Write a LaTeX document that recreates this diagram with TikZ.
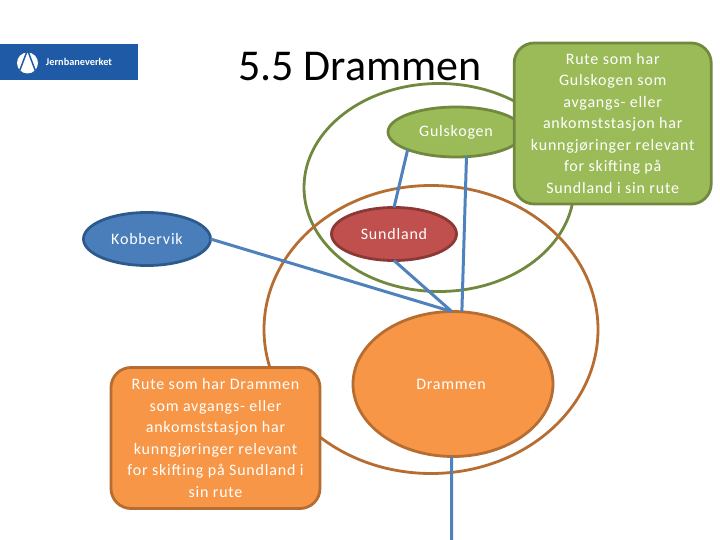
\documentclass[tikz,border=0pt]{standalone}
\usepackage{fontspec}
\setmainfont{Carlito}
\usetikzlibrary{shapes.geometric}
\definecolor{bluefill}{HTML}{4A7EBB}
\definecolor{blueline}{HTML}{2C5A8C}
\definecolor{conn}{HTML}{4F81BD}
\definecolor{greenfill}{HTML}{9BBB59}
\definecolor{greenline}{HTML}{71893F}
\definecolor{redfill}{HTML}{C0504D}
\definecolor{redline}{HTML}{8C3836}
\definecolor{orangefill}{HTML}{F79646}
\definecolor{orangeline}{HTML}{B66D31}
\definecolor{logoblue}{HTML}{1F5AA6}
\tikzset{
  x=1pt,y=-1pt,
  every node/.style={font=\fontsize{16}{21.5}\selectfont\addfontfeature{LetterSpace=5},text=white,align=center,inner sep=0pt,outer sep=0pt},
  station/.style={ellipse,line width=2.8pt},
  ring/.style={ellipse,line width=2.8pt,fill=none},
  note/.style={rounded corners=20pt,line width=2.8pt},
  link/.style={conn,line width=3pt},
}
\begin{document}
\begin{tikzpicture}
\useasboundingbox (0,0) rectangle (720,540);
% logo
\fill[logoblue] (0,44) rectangle (138,80);
\fill[white] (27.5,63) circle (10.5);
\draw[logoblue,line width=1.5pt] (18,75) -- (27.5,50) -- (37,75);
\node[font=\fontsize{10.3}{11}\selectfont\bfseries] (logotext) at (79,62) {Jernbaneverket};
% title
\node[text=black,font=\fontsize{44}{46}\selectfont] (title) at (360,67) {5.5 Drammen};
% rings
\node[ring,draw=greenline,minimum width=270,minimum height=208] (greenring) at (439,187.5) {};
\node[ring,draw=orangeline,minimum width=334,minimum height=288] (brownring) at (431,329.5) {};
% stations
\node[station,minimum width=136,minimum height=50,fill=greenfill,draw=greenline] (gulskogen) at (456,132) {Gulskogen};
\node[station,minimum width=127,minimum height=53,fill=bluefill,draw=blueline] (kobbervik) at (147,239) {Kobbervik};
\node[station,minimum width=125,minimum height=53,fill=redfill,draw=redline] (sundland) at (394,234) {Sundland};
\node[ellipse,line width=2.8pt,minimum width=200,minimum height=145,fill=orangefill,draw=orangeline] (drammen) at (453,384) {};
\node (drammenlabel) at (451,384) {Drammen};
\coordinate (bottom) at (451.7,540);
% connectors
\draw[link] (gulskogen.200) -- (sundland.north);
\draw[link] (gulskogen.293) -- (drammen.83);
\draw[link] (sundland.south) -- (drammen.91);
\draw[link] (kobbervik.east) -- (drammen.91);
\draw[link] (drammen.269) -- (bottom);
% notes
\node[note,fill=greenfill,draw=greenline,minimum width=197,minimum height=161] (greennote) at (612.7,123.5) {Rute som har\\Gulskogen som\\avgangs- eller\\ankomststasjon har\\kunngjøringer relevant\\for skifting på\\Sundland i sin rute};
\node[note,fill=orangefill,draw=orangeline,minimum width=209,minimum height=141] (orangenote) at (215.5,438) {Rute som har Drammen\\som avgangs- eller\\ankomststasjon har\\kunngjøringer relevant\\for skifting på Sundland i\\sin rute};
\end{tikzpicture}
\end{document}
